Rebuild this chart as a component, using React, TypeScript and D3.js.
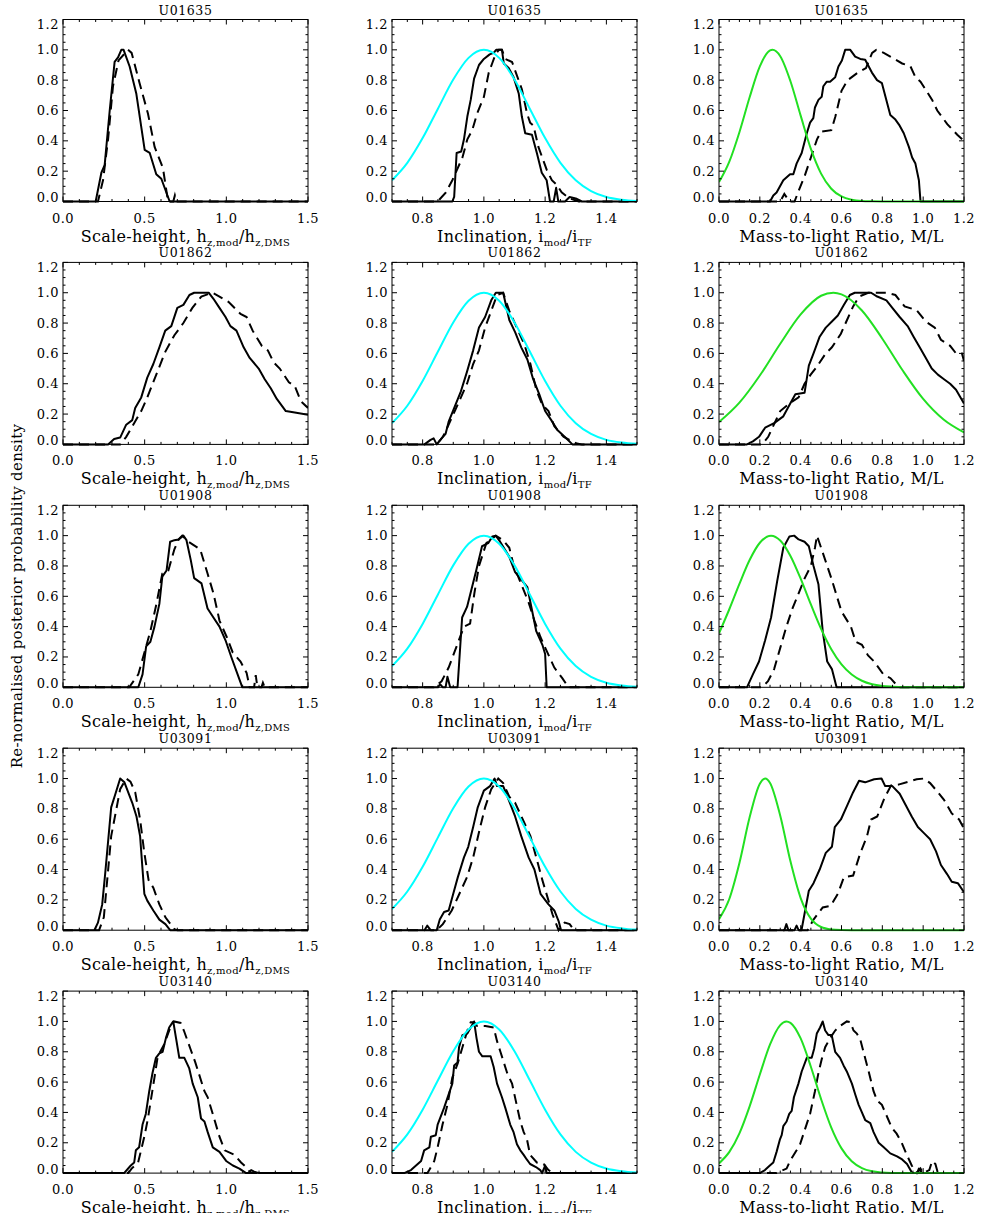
import * as d3 from 'd3';

type Pt = [number, number];

const galaxies = ['U01635', 'U01862', 'U01908', 'U03091', 'U03140'];

const yTicks = [0, 0.2, 0.4, 0.6, 0.8, 1.0, 1.2];
const hzTicks = [0, 0.5, 1.0, 1.5];
const incTicks = [0.8, 1.0, 1.2, 1.4];
const mlTicks = [0, 0.2, 0.4, 0.6, 0.8, 1.0, 1.2];

// ---- scale-height posteriors (solid / dashed)
const hzSolidU01635: Pt[] = [[0, 0], [0.2, 0], [0.224, 0.13], [0.235, 0.19], [0.255, 0.24], [0.286, 0.6], [0.316, 0.92], [0.337, 0.95], [0.357, 1.0], [0.371, 1.0], [0.408, 0.89], [0.449, 0.71], [0.5, 0.34], [0.531, 0.32], [0.571, 0.18], [0.602, 0.15], [0.653, 0], [1.5, 0]];
const hzDashU01635: Pt[] = [[0, 0], [0.214, 0], [0.245, 0.14], [0.276, 0.41], [0.306, 0.76], [0.34, 0.93], [0.398, 1.0], [0.42, 0.98], [0.469, 0.78], [0.52, 0.58], [0.561, 0.36], [0.612, 0.22], [0.643, 0], [0.675, 0], [0.685, 0.04], [0.695, 0], [1.5, 0]];
const hzSolidU01862: Pt[] = [[0, 0], [0.276, 0], [0.313, 0.035], [0.35, 0.045], [0.387, 0.13], [0.424, 0.16], [0.442, 0.24], [0.479, 0.31], [0.516, 0.44], [0.553, 0.53], [0.59, 0.64], [0.626, 0.75], [0.663, 0.78], [0.7, 0.9], [0.737, 0.92], [0.774, 0.985], [0.803, 1.0], [0.892, 1.0], [0.921, 0.96], [0.958, 0.9], [0.995, 0.84], [1.025, 0.78], [1.062, 0.75], [1.106, 0.64], [1.143, 0.57], [1.198, 0.5], [1.235, 0.43], [1.272, 0.37], [1.309, 0.3], [1.364, 0.22], [1.419, 0.21], [1.5, 0.195]];
const hzDashU01862: Pt[] = [[0, 0], [0.35, 0], [0.387, 0.05], [0.479, 0.22], [0.516, 0.31], [0.571, 0.46], [0.626, 0.61], [0.682, 0.72], [0.737, 0.8], [0.792, 0.9], [0.847, 0.975], [0.914, 1.0], [0.958, 0.975], [1.013, 0.94], [1.087, 0.86], [1.124, 0.84], [1.161, 0.75], [1.217, 0.65], [1.254, 0.62], [1.29, 0.54], [1.327, 0.5], [1.383, 0.41], [1.419, 0.385], [1.456, 0.285], [1.5, 0.24]];
const hzSolidU01908: Pt[] = [[0, 0], [0.461, 0], [0.487, 0.085], [0.509, 0.27], [0.535, 0.3], [0.56, 0.4], [0.59, 0.55], [0.608, 0.73], [0.634, 0.77], [0.656, 0.96], [0.682, 0.97], [0.708, 0.975], [0.737, 1.0], [0.756, 0.97], [0.782, 0.84], [0.803, 0.72], [0.848, 0.685], [0.885, 0.52], [0.921, 0.46], [0.958, 0.4], [0.995, 0.31], [1.032, 0.195], [1.069, 0.085], [1.098, 0], [1.5, 0]];
const hzDashU01908: Pt[] = [[0, 0], [0.405, 0], [0.435, 0.045], [0.461, 0.085], [0.535, 0.37], [0.572, 0.55], [0.608, 0.75], [0.645, 0.77], [0.682, 0.91], [0.708, 0.975], [0.73, 1.0], [0.767, 0.96], [0.84, 0.91], [0.885, 0.75], [0.921, 0.62], [0.958, 0.44], [1.003, 0.33], [1.039, 0.23], [1.087, 0.17], [1.124, 0.095], [1.143, 0], [1.17, 0], [1.18, 0.08], [1.19, 0], [1.215, 0], [1.224, 0.03], [1.235, 0], [1.5, 0]];
const hzSolidU03091: Pt[] = [[0, 0], [0.192, 0], [0.214, 0.05], [0.24, 0.17], [0.258, 0.37], [0.295, 0.81], [0.324, 0.91], [0.35, 1.0], [0.376, 0.975], [0.424, 0.84], [0.45, 0.75], [0.472, 0.62], [0.487, 0.4], [0.498, 0.24], [0.516, 0.195], [0.553, 0.13], [0.59, 0.07], [0.627, 0.04], [0.656, 0], [1.5, 0]];
const hzDashU03091: Pt[] = [[0, 0], [0.221, 0], [0.25, 0.085], [0.295, 0.62], [0.35, 0.93], [0.387, 1.0], [0.413, 0.98], [0.442, 0.91], [0.472, 0.73], [0.498, 0.51], [0.524, 0.33], [0.553, 0.28], [0.59, 0.17], [0.627, 0.085], [0.682, 0.007], [0.7, 0], [1.5, 0]];
const hzSolidU03140: Pt[] = [[0, 0], [0.374, 0], [0.415, 0.05], [0.436, 0.07], [0.446, 0.15], [0.466, 0.17], [0.487, 0.32], [0.507, 0.39], [0.528, 0.54], [0.548, 0.66], [0.569, 0.76], [0.59, 0.79], [0.61, 0.8], [0.63, 0.89], [0.65, 0.96], [0.675, 1.0], [0.692, 0.89], [0.712, 0.76], [0.743, 0.76], [0.773, 0.69], [0.794, 0.59], [0.825, 0.5], [0.845, 0.36], [0.866, 0.34], [0.886, 0.27], [0.917, 0.17], [0.958, 0.14], [0.999, 0.08], [1.04, 0.05], [1.08, 0.03], [1.121, 0], [1.14, 0], [1.152, 0.02], [1.17, 0.01], [1.2, 0], [1.5, 0]];
const hzDashU03140: Pt[] = [[0, 0], [0.4, 0], [0.42, 0.03], [0.46, 0.07], [0.5, 0.25], [0.52, 0.36], [0.56, 0.63], [0.58, 0.77], [0.62, 0.85], [0.66, 0.97], [0.68, 1.0], [0.72, 0.99], [0.74, 0.94], [0.78, 0.82], [0.81, 0.73], [0.866, 0.54], [0.886, 0.5], [0.917, 0.39], [0.958, 0.24], [0.99, 0.15], [1.05, 0.12], [1.09, 0.07], [1.12, 0.04], [1.15, 0], [1.5, 0]];

// ---- inclination posteriors
const incSolidU01635: Pt[] = [[0.7, 0], [0.897, 0], [0.903, 0.03], [0.911, 0.32], [0.926, 0.33], [0.935, 0.41], [0.946, 0.56], [0.957, 0.67], [0.968, 0.81], [0.984, 0.9], [1.0, 0.94], [1.019, 0.97], [1.032, 0.98], [1.04, 1.0], [1.059, 1.0], [1.065, 0.91], [1.081, 0.88], [1.097, 0.82], [1.114, 0.71], [1.124, 0.56], [1.135, 0.45], [1.157, 0.44], [1.173, 0.32], [1.189, 0.19], [1.205, 0.14], [1.216, 0], [1.228, 0], [1.236, 0.09], [1.243, 0], [1.265, 0], [1.28, 0.03], [1.3, 0.02], [1.32, 0], [1.5, 0]];
const incDashU01635: Pt[] = [[0.7, 0], [0.849, 0], [0.876, 0.06], [0.897, 0.14], [0.93, 0.29], [0.946, 0.41], [0.962, 0.47], [0.978, 0.58], [1.0, 0.69], [1.016, 0.85], [1.027, 0.91], [1.038, 0.97], [1.049, 1.0], [1.059, 1.0], [1.07, 0.94], [1.092, 0.92], [1.108, 0.83], [1.124, 0.74], [1.141, 0.58], [1.151, 0.52], [1.162, 0.5], [1.178, 0.36], [1.205, 0.21], [1.222, 0.14], [1.238, 0.11], [1.254, 0.06], [1.28, 0.02], [1.31, 0], [1.5, 0]];
const incSolidU01862: Pt[] = [[0.7, 0], [0.806, 0], [0.826, 0.03], [0.836, 0.04], [0.846, 0], [0.862, 0.04], [0.875, 0.07], [0.885, 0.15], [0.925, 0.35], [0.945, 0.48], [0.965, 0.62], [0.984, 0.77], [1.004, 0.84], [1.024, 0.95], [1.039, 1.0], [1.063, 1.0], [1.083, 0.82], [1.102, 0.74], [1.122, 0.64], [1.142, 0.56], [1.161, 0.43], [1.181, 0.33], [1.2, 0.22], [1.22, 0.16], [1.24, 0.095], [1.269, 0.04], [1.289, 0], [1.5, 0]];
const incDashU01862: Pt[] = [[0.7, 0], [0.846, 0], [0.866, 0.05], [0.885, 0.13], [0.905, 0.22], [0.945, 0.4], [0.965, 0.53], [0.984, 0.62], [1.004, 0.77], [1.024, 0.88], [1.043, 0.985], [1.063, 1.0], [1.083, 0.88], [1.112, 0.75], [1.132, 0.66], [1.152, 0.53], [1.171, 0.36], [1.191, 0.26], [1.211, 0.22], [1.23, 0.12], [1.26, 0.05], [1.3, 0.007], [1.32, 0], [1.5, 0]];
const incSolidU01908: Pt[] = [[0.7, 0], [0.85, 0], [0.857, 0.02], [0.866, 0], [0.875, 0], [0.881, 0.07], [0.89, 0], [0.914, 0], [0.929, 0.46], [0.945, 0.53], [0.975, 0.77], [0.994, 0.93], [1.014, 0.95], [1.028, 0.995], [1.039, 1.0], [1.053, 0.96], [1.083, 0.86], [1.102, 0.76], [1.142, 0.66], [1.157, 0.51], [1.171, 0.37], [1.191, 0.28], [1.2, 0.22], [1.205, 0], [1.5, 0]];
const incDashU01908: Pt[] = [[0.7, 0], [0.836, 0], [0.862, 0.04], [0.885, 0.13], [0.935, 0.4], [0.955, 0.42], [0.969, 0.62], [0.984, 0.8], [1.008, 0.95], [1.039, 1.0], [1.063, 0.97], [1.083, 0.92], [1.098, 0.8], [1.122, 0.68], [1.146, 0.56], [1.165, 0.44], [1.185, 0.33], [1.205, 0.24], [1.23, 0.13], [1.256, 0.06], [1.276, 0], [1.5, 0]];
const incSolidU03091: Pt[] = [[0.7, 0], [0.806, 0], [0.815, 0.03], [0.826, 0], [0.846, 0], [0.856, 0.07], [0.87, 0.12], [0.885, 0.13], [0.9, 0.24], [0.915, 0.35], [0.935, 0.48], [0.949, 0.55], [0.965, 0.68], [0.98, 0.81], [1.0, 0.92], [1.02, 0.95], [1.035, 1.0], [1.043, 0.95], [1.063, 0.95], [1.083, 0.85], [1.102, 0.75], [1.122, 0.62], [1.146, 0.48], [1.165, 0.4], [1.185, 0.24], [1.211, 0.17], [1.23, 0.13], [1.244, 0.06], [1.252, 0], [1.5, 0]];
const incDashU03091: Pt[] = [[0.7, 0], [0.846, 0], [0.866, 0.04], [0.895, 0.13], [0.945, 0.35], [0.965, 0.48], [0.988, 0.68], [1.004, 0.81], [1.024, 0.93], [1.047, 1.0], [1.063, 0.97], [1.083, 0.88], [1.102, 0.84], [1.152, 0.62], [1.171, 0.48], [1.191, 0.33], [1.211, 0.195], [1.224, 0.105], [1.244, 0], [1.264, 0.05], [1.28, 0.04], [1.295, 0], [1.5, 0]];
const incSolidU03140: Pt[] = [[0.7, 0], [0.74, 0], [0.762, 0.02], [0.795, 0.08], [0.805, 0.15], [0.822, 0.17], [0.827, 0.24], [0.843, 0.25], [0.849, 0.32], [0.87, 0.43], [0.897, 0.59], [0.903, 0.71], [0.914, 0.73], [0.919, 0.83], [0.93, 0.91], [0.946, 0.92], [0.968, 1.0], [0.976, 0.89], [0.984, 0.8], [0.995, 0.77], [1.022, 0.77], [1.032, 0.7], [1.043, 0.59], [1.059, 0.5], [1.07, 0.43], [1.086, 0.32], [1.097, 0.27], [1.108, 0.19], [1.119, 0.15], [1.13, 0.12], [1.14, 0.09], [1.151, 0.06], [1.17, 0.04], [1.184, 0.02], [1.19, 0], [1.2, 0.05], [1.205, 0], [1.5, 0]];
const incDashU03140: Pt[] = [[0.7, 0], [0.816, 0], [0.838, 0.08], [0.849, 0.17], [0.865, 0.32], [0.881, 0.45], [0.897, 0.63], [0.914, 0.72], [0.93, 0.83], [0.946, 0.94], [0.957, 0.995], [0.968, 0.995], [0.978, 0.97], [1.005, 0.97], [1.032, 0.96], [1.043, 0.87], [1.054, 0.8], [1.076, 0.66], [1.092, 0.59], [1.119, 0.34], [1.13, 0.27], [1.14, 0.23], [1.151, 0.12], [1.173, 0.07], [1.195, 0.06], [1.211, 0.02], [1.225, 0], [1.5, 0]];

// ---- mass-to-light posteriors
const mlSolidU01635: Pt[] = [[0, 0], [0.25, 0], [0.266, 0.04], [0.282, 0.06], [0.315, 0.14], [0.348, 0.18], [0.364, 0.18], [0.38, 0.25], [0.405, 0.32], [0.43, 0.45], [0.446, 0.52], [0.462, 0.55], [0.47, 0.62], [0.487, 0.67], [0.503, 0.69], [0.511, 0.76], [0.528, 0.79], [0.544, 0.79], [0.569, 0.82], [0.585, 0.89], [0.602, 0.93], [0.618, 1.0], [0.643, 1.0], [0.667, 0.955], [0.692, 0.94], [0.716, 0.935], [0.749, 0.85], [0.774, 0.8], [0.798, 0.78], [0.839, 0.57], [0.864, 0.54], [0.885, 0.5], [0.905, 0.45], [0.93, 0.36], [0.946, 0.29], [0.962, 0.25], [0.979, 0.14], [0.987, 0], [1.2, 0]];
const mlDashU01635: Pt[] = [[0, 0], [0.3, 0], [0.32, 0.05], [0.345, 0], [0.37, 0], [0.39, 0.07], [0.42, 0.17], [0.45, 0.29], [0.48, 0.41], [0.5, 0.46], [0.55, 0.47], [0.57, 0.56], [0.6, 0.73], [0.63, 0.8], [0.68, 0.85], [0.72, 0.88], [0.75, 0.98], [0.77, 1.0], [0.807, 0.98], [0.839, 0.955], [0.897, 0.91], [0.921, 0.9], [0.938, 0.89], [0.962, 0.82], [0.987, 0.79], [1.044, 0.67], [1.069, 0.6], [1.118, 0.51], [1.167, 0.44], [1.2, 0.4]];
const mlSolidU01862: Pt[] = [[0, 0], [0.137, 0], [0.166, 0.02], [0.196, 0.05], [0.226, 0.11], [0.27, 0.14], [0.315, 0.185], [0.345, 0.26], [0.374, 0.33], [0.419, 0.34], [0.44, 0.52], [0.463, 0.6], [0.493, 0.71], [0.523, 0.77], [0.553, 0.81], [0.582, 0.85], [0.612, 0.92], [0.641, 0.985], [0.665, 1.0], [0.745, 1.0], [0.775, 0.975], [0.82, 0.95], [0.849, 0.9], [0.885, 0.84], [0.924, 0.78], [0.953, 0.71], [0.983, 0.64], [1.013, 0.57], [1.042, 0.5], [1.072, 0.46], [1.102, 0.43], [1.132, 0.4], [1.161, 0.36], [1.2, 0.27]];
const mlDashU01862: Pt[] = [[0, 0], [0.211, 0], [0.241, 0.05], [0.3, 0.22], [0.345, 0.27], [0.39, 0.31], [0.419, 0.4], [0.449, 0.46], [0.478, 0.51], [0.523, 0.6], [0.553, 0.64], [0.597, 0.73], [0.627, 0.82], [0.657, 0.91], [0.686, 0.975], [0.731, 1.0], [0.82, 1.0], [0.864, 0.985], [0.909, 0.91], [0.968, 0.885], [1.013, 0.81], [1.057, 0.77], [1.087, 0.69], [1.132, 0.65], [1.161, 0.6], [1.19, 0.6], [1.2, 0.55]];
const mlSolidU01908: Pt[] = [[0, 0], [0.137, 0], [0.166, 0.085], [0.196, 0.17], [0.226, 0.31], [0.255, 0.46], [0.285, 0.7], [0.315, 0.92], [0.345, 0.995], [0.368, 1.0], [0.39, 0.975], [0.419, 0.96], [0.44, 0.93], [0.463, 0.8], [0.487, 0.68], [0.508, 0.37], [0.53, 0.17], [0.553, 0.12], [0.576, 0], [1.2, 0]];
const mlDashU01908: Pt[] = [[0, 0], [0.21, 0], [0.24, 0.04], [0.27, 0.12], [0.3, 0.26], [0.33, 0.4], [0.36, 0.52], [0.39, 0.62], [0.42, 0.72], [0.45, 0.8], [0.47, 0.92], [0.48, 1.0], [0.52, 0.84], [0.55, 0.72], [0.6, 0.5], [0.646, 0.4], [0.67, 0.3], [0.7, 0.28], [0.73, 0.21], [0.76, 0.17], [0.805, 0.085], [0.84, 0.06], [0.88, 0], [1.2, 0]];
const mlSolidU03091: Pt[] = [[0, 0], [0.32, 0], [0.33, 0.04], [0.34, 0], [0.37, 0], [0.38, 0.03], [0.39, 0], [0.404, 0], [0.44, 0.26], [0.463, 0.31], [0.493, 0.4], [0.523, 0.51], [0.553, 0.55], [0.567, 0.68], [0.597, 0.73], [0.627, 0.82], [0.657, 0.91], [0.686, 0.985], [0.716, 0.975], [0.76, 0.995], [0.796, 1.0], [0.814, 0.95], [0.849, 0.95], [0.885, 0.9], [0.944, 0.75], [0.974, 0.68], [1.004, 0.64], [1.034, 0.6], [1.063, 0.52], [1.087, 0.43], [1.117, 0.37], [1.14, 0.32], [1.17, 0.31], [1.2, 0.25]];
const mlDashU03091: Pt[] = [[0, 0], [0.434, 0], [0.463, 0.07], [0.508, 0.15], [0.547, 0.16], [0.582, 0.24], [0.612, 0.35], [0.657, 0.36], [0.69, 0.5], [0.725, 0.62], [0.745, 0.73], [0.775, 0.75], [0.81, 0.87], [0.843, 0.955], [0.879, 0.96], [0.93, 0.98], [0.968, 0.995], [1.004, 1.0], [1.034, 0.97], [1.072, 0.91], [1.102, 0.86], [1.14, 0.77], [1.176, 0.73], [1.2, 0.67]];
const mlSolidU03140: Pt[] = [[0, 0], [0.2, 0], [0.225, 0.02], [0.249, 0.05], [0.266, 0.07], [0.282, 0.14], [0.298, 0.22], [0.307, 0.25], [0.315, 0.31], [0.331, 0.34], [0.344, 0.39], [0.356, 0.41], [0.367, 0.5], [0.389, 0.59], [0.405, 0.67], [0.43, 0.76], [0.454, 0.76], [0.466, 0.82], [0.479, 0.92], [0.495, 0.96], [0.508, 1.0], [0.52, 0.94], [0.536, 0.91], [0.552, 0.91], [0.569, 0.8], [0.593, 0.76], [0.61, 0.71], [0.626, 0.67], [0.651, 0.59], [0.667, 0.52], [0.684, 0.45], [0.7, 0.4], [0.716, 0.35], [0.741, 0.33], [0.757, 0.27], [0.782, 0.2], [0.807, 0.17], [0.839, 0.13], [0.872, 0.11], [0.897, 0.09], [0.921, 0.06], [0.946, 0], [0.97, 0], [0.979, 0.03], [0.995, 0], [1.2, 0]];
const mlDashU03140: Pt[] = [[0, 0], [0.282, 0], [0.331, 0.03], [0.348, 0.08], [0.38, 0.15], [0.397, 0.19], [0.446, 0.39], [0.47, 0.54], [0.487, 0.66], [0.503, 0.75], [0.52, 0.83], [0.544, 0.89], [0.569, 0.94], [0.593, 0.97], [0.626, 1.0], [0.643, 0.995], [0.659, 0.94], [0.675, 0.92], [0.692, 0.88], [0.733, 0.67], [0.757, 0.54], [0.774, 0.48], [0.798, 0.45], [0.846, 0.3], [0.87, 0.26], [0.895, 0.2], [0.92, 0.12], [0.944, 0.05], [0.97, 0], [0.987, 0.03], [1.0, 0], [1.03, 0.02], [1.044, 0.08], [1.06, 0.06], [1.072, 0], [1.2, 0]];

// ---- priors (cyan for inclination, same in every row; green for M/L)
const incPrior: Pt[] = [[0.7, 0.14], [0.75, 0.255], [0.8, 0.418], [0.85, 0.612], [0.9, 0.804], [0.95, 0.947], [1.0, 1.0], [1.05, 0.947], [1.1, 0.804], [1.15, 0.612], [1.2, 0.418], [1.25, 0.255], [1.3, 0.14], [1.35, 0.069], [1.4, 0.03], [1.45, 0.012], [1.5, 0.004]];
const mlPriorU01635: Pt[] = [[0, 0.128], [0.05, 0.261], [0.1, 0.457], [0.15, 0.687], [0.2, 0.891], [0.25, 0.996], [0.262, 1.0], [0.3, 0.958], [0.35, 0.793], [0.4, 0.566], [0.45, 0.347], [0.5, 0.184], [0.55, 0.084], [0.6, 0.033], [0.65, 0.011], [0.7, 0.003], [0.75, 0.001], [0.8, 0], [1.2, 0]];
const mlPriorU01862: Pt[] = [[0, 0.147], [0.1, 0.275], [0.2, 0.454], [0.3, 0.664], [0.4, 0.857], [0.5, 0.98], [0.56, 1.0], [0.6, 0.989], [0.7, 0.883], [0.8, 0.697], [0.9, 0.487], [1.0, 0.3], [1.1, 0.164], [1.2, 0.079]];
const mlPriorU01908: Pt[] = [[0, 0.356], [0.05, 0.513], [0.1, 0.682], [0.15, 0.839], [0.2, 0.953], [0.255, 1.0], [0.3, 0.968], [0.35, 0.866], [0.4, 0.716], [0.45, 0.546], [0.5, 0.385], [0.55, 0.251], [0.6, 0.151], [0.65, 0.084], [0.7, 0.043], [0.75, 0.02], [0.8, 0.009], [0.85, 0.004], [0.9, 0.001], [1.0, 0], [1.2, 0]];
const mlPriorU03091: Pt[] = [[0, 0.073], [0.05, 0.204], [0.1, 0.443], [0.15, 0.744], [0.2, 0.966], [0.226, 1.0], [0.25, 0.971], [0.3, 0.755], [0.35, 0.454], [0.4, 0.212], [0.45, 0.076], [0.5, 0.021], [0.55, 0.005], [0.6, 0.001], [0.65, 0], [1.2, 0]];
const mlPriorU03140: Pt[] = [[0, 0.064], [0.05, 0.138], [0.1, 0.262], [0.15, 0.44], [0.2, 0.65], [0.25, 0.848], [0.3, 0.976], [0.33, 1.0], [0.35, 0.991], [0.4, 0.888], [0.45, 0.701], [0.5, 0.488], [0.55, 0.3], [0.6, 0.163], [0.65, 0.078], [0.7, 0.033], [0.75, 0.012], [0.8, 0.004], [0.85, 0.001], [0.9, 0], [1.2, 0]];

const hzSolid = [hzSolidU01635, hzSolidU01862, hzSolidU01908, hzSolidU03091, hzSolidU03140];
const hzDash = [hzDashU01635, hzDashU01862, hzDashU01908, hzDashU03091, hzDashU03140];
const incSolid = [incSolidU01635, incSolidU01862, incSolidU01908, incSolidU03091, incSolidU03140];
const incDash = [incDashU01635, incDashU01862, incDashU01908, incDashU03091, incDashU03140];
const mlSolid = [mlSolidU01635, mlSolidU01862, mlSolidU01908, mlSolidU03091, mlSolidU03140];
const mlDash = [mlDashU01635, mlDashU01862, mlDashU01908, mlDashU03091, mlDashU03140];
const mlPrior = [mlPriorU01635, mlPriorU01862, mlPriorU01908, mlPriorU03091, mlPriorU03140];

const FONT = 'DejaVu Serif';
const W = 245;
const H = 182;
const colLeft = [63, 392, 719];
const rowTop = (r: number) => 19.5 + r * 242.9;

const sub = (s: string) => (
  <tspan dy={4} fontSize={10}>{s}</tspan>
);

const columns = [
  {
    domain: [0, 1.5],
    ticks: hzTicks,
    minor: 15,
    label: (
      <>
        Scale-height, h{sub('z,mod')}<tspan dy={-4}>/h</tspan>{sub('z,DMS')}
      </>
    ),
  },
  {
    domain: [0.7, 1.5],
    ticks: incTicks,
    minor: 16,
    label: (
      <>
        Inclination, i{sub('mod')}<tspan dy={-4}>/i</tspan>{sub('TF')}
      </>
    ),
  },
  {
    domain: [0, 1.2],
    ticks: mlTicks,
    minor: 24,
    label: <>Mass-to-light Ratio, M/L</>,
  },
];

const fmt = d3.format('.1f');

function Panel({ row, col, solid, dashed, prior, priorColor }: {
  row: number; col: number; solid: Pt[]; dashed: Pt[]; prior?: Pt[]; priorColor?: string;
}) {
  const cfg = columns[col];
  const x = d3.scaleLinear().domain(cfg.domain).range([0, W]);
  const y = d3.scaleLinear().domain([0, 1.2]).range([H, 0]);
  const line = d3.line<Pt>().x((d) => x(d[0])).y((d) => y(d[1]));
  const smooth = d3.line<Pt>().x((d) => x(d[0])).y((d) => y(d[1])).curve(d3.curveMonotoneX);
  const id = `clip-${row}-${col}`;
  const xMinor = x.ticks(cfg.minor);
  const yMinor = y.ticks(24);

  return (
    <g transform={`translate(${colLeft[col]},${rowTop(row)})`}>
      <text x={W / 2} y={-5} textAnchor="middle" fontSize={12.5} letterSpacing={0.6}>
        {galaxies[row]}
      </text>
      <clipPath id={id}>
        <rect x={0} y={-3} width={W} height={H + 6} />
      </clipPath>
      <g clipPath={`url(#${id})`} fill="none">
        <path d={line(solid) || ''} stroke="#000" strokeWidth={2} strokeLinejoin="round" />
        <path d={line(dashed) || ''} stroke="#000" strokeWidth={2} strokeDasharray="10,6" />
        {prior && <path d={smooth(prior) || ''} stroke={priorColor} strokeWidth={2} />}
      </g>
      <rect x={0} y={0} width={W} height={H} fill="none" stroke="#000" strokeWidth={1} />
      <g stroke="#000" strokeWidth={1}>
        {xMinor.map((t) => {
          const len = cfg.ticks.some((m) => Math.abs(m - t) < 1e-6) ? 5 : 2.5;
          return (
            <g key={`x${t}`}>
              <line x1={x(t)} x2={x(t)} y1={H} y2={H - len} />
              <line x1={x(t)} x2={x(t)} y1={0} y2={len} />
            </g>
          );
        })}
        {yMinor.map((t) => {
          const len = yTicks.some((m) => Math.abs(m - t) < 1e-6) ? 5 : 2.5;
          return (
            <g key={`y${t}`}>
              <line x1={0} x2={len} y1={y(t)} y2={y(t)} />
              <line x1={W} x2={W - len} y1={y(t)} y2={y(t)} />
            </g>
          );
        })}
      </g>
      <g fontSize={13} letterSpacing={0.5}>
        {cfg.ticks.map((t) => (
          <text key={`xl${t}`} x={x(t)} y={H + 21} textAnchor="middle">
            {fmt(t)}
          </text>
        ))}
        {yTicks.map((t, i) => {
          // end labels sit inside the frame, as in the original
          const shift = i === 0 ? -4 : i === yTicks.length - 1 ? 5 : 0;
          return (
            <text key={`yl${t}`} x={-4} y={y(t) + 4.5 + shift} textAnchor="end">
              {fmt(t)}
            </text>
          );
        })}
      </g>
      <text x={W / 2} y={H + 40} textAnchor="middle" fontSize={16} letterSpacing={0.3}>
        {cfg.label}
      </text>
    </g>
  );
}

export default function App() {
  return (
    <svg
      width={981}
      height={1213}
      style={{ position: 'absolute', left: 0, top: 0, background: '#fff' }}
      fontFamily={FONT}
      fill="#000"
    >
      <rect width={981} height={1213} fill="#fff" />
      <text transform="translate(22,596) rotate(-90)" textAnchor="middle" fontSize={15} letterSpacing={0.3}>
        Re-normalised posterior probability density
      </text>
      {galaxies.map((g, r) => (
        <g key={g}>
          <Panel row={r} col={0} solid={hzSolid[r]} dashed={hzDash[r]} />
          <Panel row={r} col={1} solid={incSolid[r]} dashed={incDash[r]} prior={incPrior} priorColor="#00ffff" />
          <Panel row={r} col={2} solid={mlSolid[r]} dashed={mlDash[r]} prior={mlPrior[r]} priorColor="#22e022" />
        </g>
      ))}
    </svg>
  );
}
